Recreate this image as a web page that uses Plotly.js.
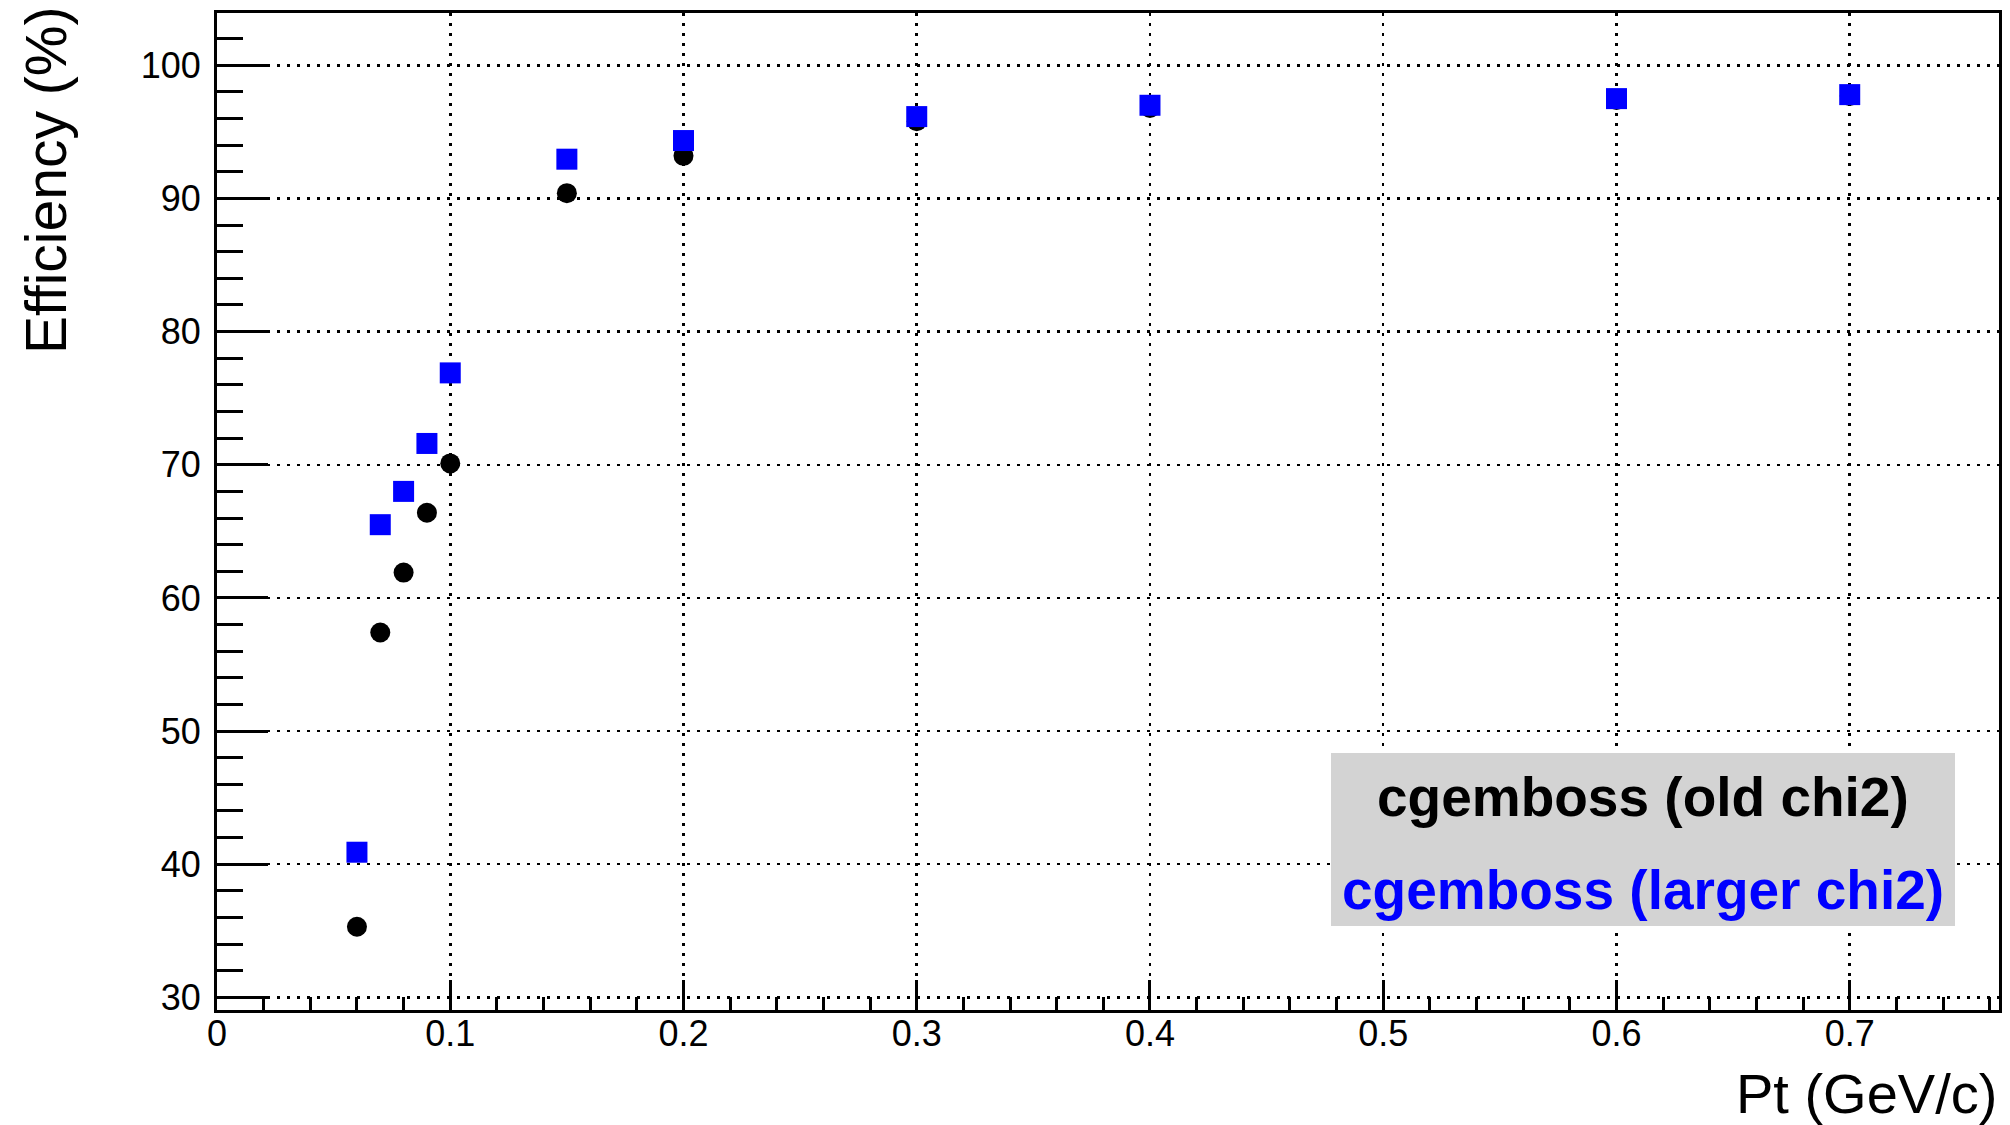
<!DOCTYPE html>
<html>
<head>
<meta charset="utf-8">
<script src="https://cdn.plot.ly/plotly-3.0.1.min.js"></script>
<style>html,body{margin:0;padding:0;background:#fff;}#chart{width:2010px;height:1125px;}</style>
</head>
<body>
<div id="chart"></div>
<script>
// Data
const pt = [0.06, 0.07, 0.08, 0.09, 0.10, 0.15, 0.20, 0.30, 0.40, 0.60, 0.70];
const effOldChi2 = [35.3, 57.4, 61.9, 66.4, 70.1, 90.4, 93.2, 95.8, 96.8, 97.4, 97.7];
const effLargerChi2 = [40.9, 65.5, 68.0, 71.6, 76.9, 92.95, 94.35, 96.15, 97.0, 97.5, 97.8];
const seriesNames = ["cgemboss (old chi2)", "cgemboss (larger chi2)"];
const xTitle = "Pt (GeV/c)";
const yTitle = "Efficiency (%)";

const FONT = "Liberation Sans, Arial, Helvetica, sans-serif";

const traces = [
  {
    x: pt, y: effOldChi2, name: seriesNames[0], type: "scatter", mode: "markers",
    marker: {symbol: "circle", size: 20, color: "#000000", line: {width: 0}}
  },
  {
    x: pt, y: effLargerChi2, name: seriesNames[1], type: "scatter", mode: "markers",
    marker: {symbol: "square", size: 21, color: "#0000ff", line: {width: 0}}
  }
];

const L = 217, R = 11, T = 13, B = 115, W = 2010, H = 1125;
const pw = W - L - R, ph = H - T - B;
function px2paperX(px) { return (px - L) / pw; }
function px2paperY(py) { return 1 - (py - T) / ph; }

const layout = {
  width: W, height: H,
  margin: {l: L, r: R, t: T, b: B, pad: 0},
  paper_bgcolor: "#ffffff", plot_bgcolor: "#ffffff",
  showlegend: false,
  font: {family: FONT, color: "#000000"},
  xaxis: {
    range: [0, 0.764], dtick: 0.1, tick0: 0,
    showline: true, linecolor: "#000", linewidth: 3, mirror: true,
    ticks: "inside", ticklen: 30, tickwidth: 3, tickcolor: "#000",
    tickfont: {family: FONT, size: 36, color: "#000"},
    showgrid: true, gridcolor: "#000", gridwidth: 2.5, griddash: "3px,7px",
    zeroline: false,
    minor: {dtick: 0.02, ticks: "inside", ticklen: 13, tickwidth: 3, tickcolor: "#000", showgrid: false},
    ticklabelstandoff: -10
  },
  yaxis: {
    range: [29.05, 103.93], dtick: 10, tick0: 0,
    showline: true, linecolor: "#000", linewidth: 3, mirror: true,
    ticks: "inside", ticklen: 51, tickwidth: 3, tickcolor: "#000",
    tickfont: {family: FONT, size: 36, color: "#000"},
    showgrid: true, gridcolor: "#000", gridwidth: 2.5, griddash: "3px,7px",
    zeroline: false,
    minor: {dtick: 2, ticks: "inside", ticklen: 26, tickwidth: 3, tickcolor: "#000", showgrid: false},
    ticklabelstandoff: 6
  },
  shapes: [
    {type: "rect", xref: "paper", yref: "paper",
     x0: px2paperX(1331), x1: px2paperX(1955), y0: px2paperY(926), y1: px2paperY(753),
     fillcolor: "#d3d3d3", line: {width: 0}, layer: "above"}
  ],
  annotations: [
    {text: yTitle, xref: "paper", yref: "paper", x: px2paperX(46), y: px2paperY(181),
     xanchor: "center", yanchor: "middle", textangle: -90, showarrow: false,
     font: {family: FONT, size: 57, color: "#000"}},
    {text: xTitle, xref: "paper", yref: "paper", x: px2paperX(1999), y: px2paperY(1093),
     xanchor: "right", yanchor: "middle", showarrow: false,
     font: {family: FONT, size: 56, color: "#000"}},
    {text: "<b>" + seriesNames[0] + "</b>", xref: "paper", yref: "paper", x: px2paperX(1643), y: px2paperY(797),
     xanchor: "center", yanchor: "middle", showarrow: false,
     font: {family: FONT, size: 55, color: "#000000"}},
    {text: "<b>" + seriesNames[1] + "</b>", xref: "paper", yref: "paper", x: px2paperX(1643), y: px2paperY(890),
     xanchor: "center", yanchor: "middle", showarrow: false,
     font: {family: FONT, size: 55, color: "#0000ff"}}
  ]
};

Plotly.newPlot("chart", traces, layout, {displayModeBar: false, staticPlot: true});
</script>
</body>
</html>
